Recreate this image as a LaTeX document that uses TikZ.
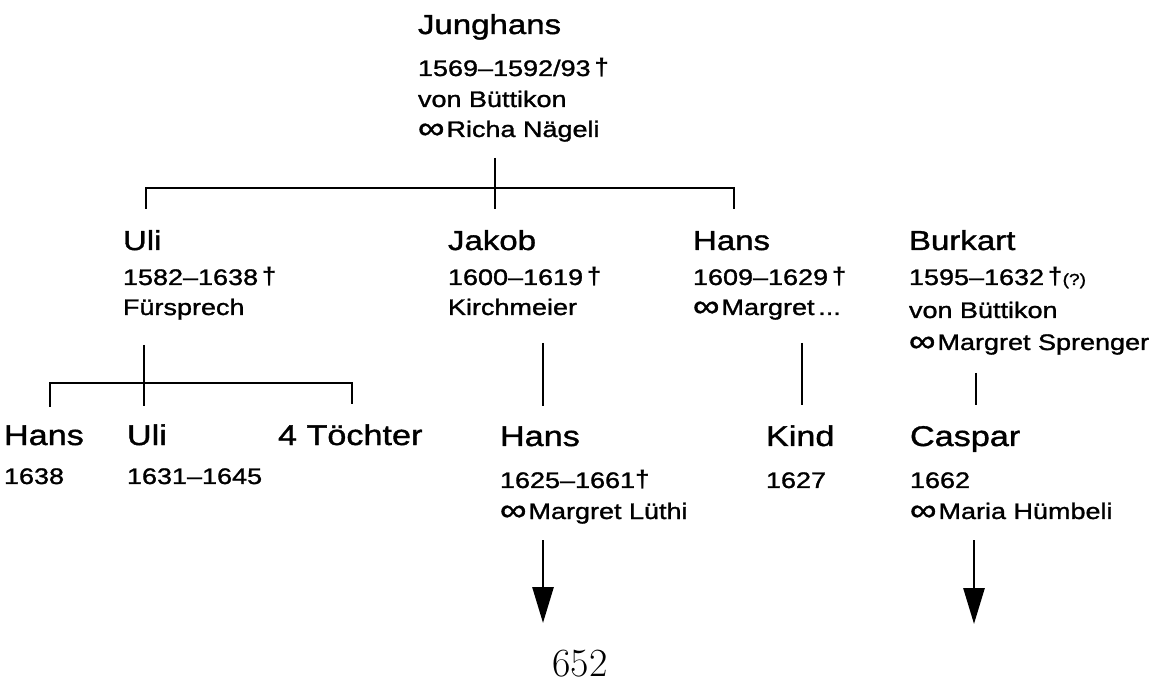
\documentclass[tikz,border=0pt]{standalone}
\usepackage{fontspec}
\newfontfamily\hv[FakeStretch=1.2,FakeBold=1.3]{Liberation Sans}
\newfontfamily\hvb[FakeStretch=1.1]{Liberation Sans Bold}
\usetikzlibrary{arrows.meta}
\newcommand\nmA{\hv\fontsize{27.5}{27.5}\selectfont}
\newcommand\nmB{\hv\fontsize{28.5}{28.5}\selectfont}
\newcommand\dtf{\hv\fontsize{22.5}{22.5}\selectfont}
\newcommand\smf{\hv\fontsize{16}{16}\selectfont}
\newcommand\marr{{\fontsize{31}{31}\selectfont\raisebox{-1.5pt}{∞}}\kern2pt}
\newcommand\mydag{{\hvb\fontsize{24}{24}\selectfont †}}
% one line of a person entry: distance from previous baseline, text
\newcommand\pline[2]{\baselineskip=#1pt\hbox{\dtf #2}}
\begin{document}
\begin{tikzpicture}[x=1pt,y=-1pt,
  person/.style={anchor=base west,inner sep=0pt,outer sep=0pt},
  tree/.style={line width=2.6pt,line cap=butt},
  descent/.style={line width=2.8pt,-{Triangle[length=36pt,width=21pt]}}]
\useasboundingbox (0,0) rectangle (1162,684);

% ---- generation 1
\node[person] (jung) at (418,34) {\vtop{\hbox{\nmA Junghans}\pline{42}{1569–1592/93\,\mydag}\pline{31}{von Büttikon}\pline{30}{\marr Richa Nägeli}}};

% ---- generation 2
\node[person] (uli) at (123,250) {\vtop{\hbox{\nmA Uli}\pline{35}{1582–1638\,\mydag}\pline{30}{Fürsprech}}};
\node[person] (jakob) at (448,250) {\vtop{\hbox{\nmA Jakob}\pline{35}{1600–1619\,\mydag}\pline{30}{Kirchmeier}}};
\node[person] (hansA) at (693,250) {\vtop{\hbox{\nmA Hans}\pline{35}{1609–1629\,\mydag}\pline{30}{\marr Margret\,...}}};
\node[person] (burk) at (909,250) {\vtop{\hbox{\nmA Burkart}\pline{35}{1595–1632\,\mydag{\smf(?)}}\pline{33}{von Büttikon}\pline{32}{\marr Margret Sprenger}}};

% ---- generation 3
\node[person] (hansB) at (4,445) {\vtop{\hbox{\nmB Hans}\pline{39}{1638}}};
\node[person] (uliB) at (127,445) {\vtop{\hbox{\nmB Uli}\pline{39}{1631–1645}}};
\node[person] (toe) at (278,445) {\vtop{\hbox{\nmB 4 Töchter}}};
\node[person] (hansC) at (500,446) {\vtop{\hbox{\nmB Hans}\pline{42}{1625–1661\mydag}\pline{31}{\marr Margret Lüthi}}};
\node[person] (kind) at (766,446) {\vtop{\hbox{\nmB Kind}\pline{42}{1627}}};
\node[person] (casp) at (910,446) {\vtop{\hbox{\nmB Caspar}\pline{42}{1662}\pline{31}{\marr Maria Hümbeli}}};

% ---- page number
\node[anchor=base,inner sep=0pt,font=\fontsize{40}{40}\selectfont] (page) at (580,676) {652};

% ---- connector coordinates
\coordinate (jT) at (495,158);
\coordinate (jB) at (495,209);
\coordinate (bL) at (146,188);
\coordinate (bR) at (734,188);
\coordinate (bLd) at (146,209);
\coordinate (bRd) at (734,209);

\coordinate (uT) at (144,345);
\coordinate (uB) at (144,406);
\coordinate (cL) at (50,383);
\coordinate (cR) at (352,383);
\coordinate (cLd) at (50,407);
\coordinate (cRd) at (352,404);

\coordinate (jkT) at (543,343);
\coordinate (jkB) at (543,406);
\coordinate (hT) at (802,343);
\coordinate (hB) at (802,405);
\coordinate (bkT) at (976,373);
\coordinate (bkB) at (976,405);

\coordinate (aT) at (543,540);
\coordinate (aB) at (543,623);
\coordinate (a2T) at (974,540);
\coordinate (a2B) at (974,624);

% ---- lines
\draw[tree] (jT) -- (jB);
\draw[tree] (bLd) -- (bL) -- (bR) -- (bRd);

\draw[tree] (uT) -- (uB);
\draw[tree] (cLd) -- (cL) -- (cR) -- (cRd);

\draw[tree] (jkT) -- (jkB);
\draw[tree] (hT) -- (hB);
\draw[tree] (bkT) -- (bkB);

\draw[descent] (aT) -- (aB);
\draw[descent] (a2T) -- (a2B);
\end{tikzpicture}
\end{document}
